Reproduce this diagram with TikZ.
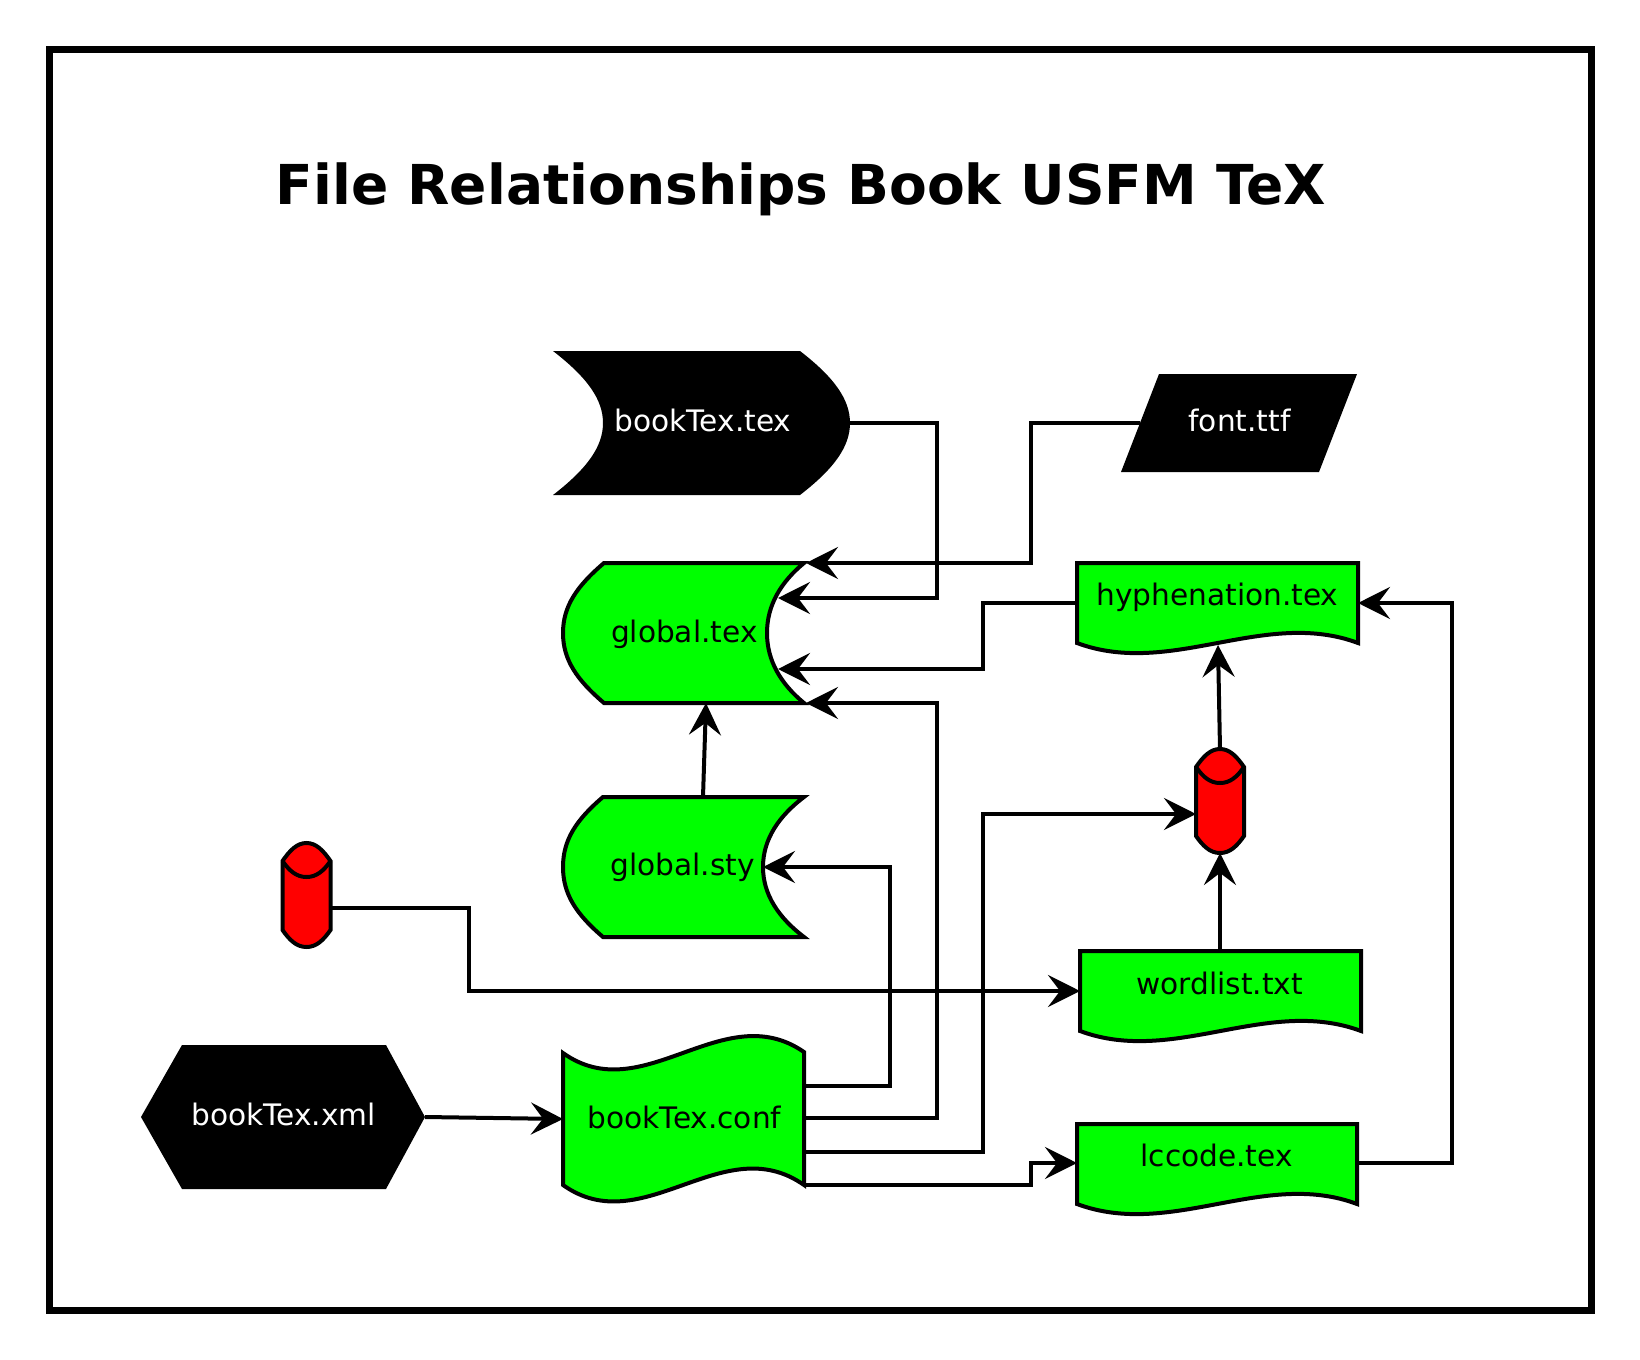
\documentclass[tikz,border=0pt]{standalone}
\usepackage{fontspec}
\setmainfont{DejaVu Sans}
\usetikzlibrary{arrows.meta}
\definecolor{nodegreen}{RGB}{0,255,0}
\definecolor{nodered}{RGB}{255,0,0}
\begin{document}
\begin{tikzpicture}[x=0.5pt,y=-0.5pt,
  conn/.style={draw=black, line width=2pt, line join=miter, -{Stealth[length=16pt,width=16pt,inset=6pt]}},
  greenshape/.style={fill=nodegreen, draw=black, line width=2pt, line join=miter},
  blackshape/.style={fill=black},
  redshape/.style={fill=nodered, draw=black, line width=2pt},
  lbl/.style={font=\fontsize{14.8}{18}\selectfont, anchor=base, inner sep=0pt},
  cylinder/.pic={
    \path[redshape] (-24,-34) -- (-24,35) .. controls (-17,45) and (-10,52) .. (0,52)
      .. controls (10,52) and (17,45) .. (24,35) -- (24,-34)
      .. controls (17,-44) and (10,-52) .. (0,-52)
      .. controls (-10,-52) and (-17,-44) .. cycle;
    \draw[line width=2pt] (-24,-34) .. controls (-17,-24) and (-10,-18) .. (0,-18)
      .. controls (10,-18) and (17,-24) .. (24,-34);
  }]
\useasboundingbox (0,0) rectangle (1640,1360);
\draw[line width=3.5pt] (49,49) rectangle (1591,1310);
\node[font=\fontsize{27.5}{33}\selectfont\bfseries, anchor=base, inner sep=0pt] (title) at (801,204) {File Relationships Book USFM TeX};

% bookTex.tex
\path[blackshape] (553,351) -- (800,351) .. controls (835,378) and (850,400) .. (850,423)
  .. controls (850,446) and (835,468) .. (800,495) -- (553,495)
  .. controls (588,468) and (603,446) .. (603,423) .. controls (603,400) and (588,378) .. cycle;
% font.ttf
\path[blackshape] (1159,374) -- (1357,374) -- (1319,472) -- (1121,472) -- cycle;
% global.tex
\path[greenshape] (604,563) -- (804,563) .. controls (781,582) and (767,605) .. (767,633)
  .. controls (767,661) and (781,684) .. (804,703) -- (604,703)
  .. controls (577,680) and (563,660) .. (563,633) .. controls (563,606) and (577,586) .. cycle;
% global.sty
\path[greenshape] (603,797) -- (804,797) .. controls (779,816) and (763,839) .. (763,867)
  .. controls (763,895) and (779,918) .. (804,937) -- (603,937)
  .. controls (576,914) and (563,894) .. (563,867) .. controls (563,840) and (576,820) .. cycle;
% hyphenation.tex
\path[greenshape] (1077,563) -- (1358,563) -- (1358,643) .. controls (1264,608) and (1171,678) .. (1077,643) -- cycle;
% wordlist.txt
\path[greenshape] (1080,951) -- (1361,951) -- (1361,1031) .. controls (1267,996) and (1174,1066) .. (1080,1031) -- cycle;
% lccode.tex
\path[greenshape] (1077,1124) -- (1357,1124) -- (1357,1204) .. controls (1264,1169) and (1171,1239) .. (1077,1204) -- cycle;
% bookTex.conf
\path[greenshape] (563,1053) .. controls (643,1110) and (723,996) .. (804,1052) -- (804,1185)
  .. controls (723,1128) and (643,1242) .. (563,1185) -- cycle;
% bookTex.xml
\path[blackshape] (141,1117) -- (182,1045) -- (386,1045) -- (425,1117) -- (386,1189) -- (182,1189) -- cycle;
% cylinders
\pic at (1220,801) {cylinder};
\pic at (306.5,895) {cylinder};

% ports
\coordinate (bt-e) at (850,423);
\coordinate (font-w) at (1140,423);
\coordinate (gt-ne) at (806,563);
\coordinate (gt-e1) at (778,598);
\coordinate (gt-e2) at (778,669);
\coordinate (gt-se) at (806,703);
\coordinate (gt-s) at (706,703);
\coordinate (gs-n) at (703,797);
\coordinate (gs-e) at (763,867);
\coordinate (hy-w) at (1077,603);
\coordinate (hy-e) at (1358,603);
\coordinate (hy-s) at (1218,645);
\coordinate (wl-w) at (1080,991);
\coordinate (wl-n) at (1220,951);
\coordinate (lc-w) at (1077,1163);
\coordinate (lc-e) at (1357,1163);
\coordinate (cylR-w) at (1196,814);
\coordinate (cylR-n) at (1220,749);
\coordinate (cylR-s) at (1220,853);
\coordinate (cylL-e) at (330.5,908);
\coordinate (xml-e) at (425,1117);
\coordinate (conf-w) at (563,1119);
\coordinate (conf-e1) at (804,1086);
\coordinate (conf-e2) at (804,1118);
\coordinate (conf-e3) at (804,1152);
\coordinate (conf-e4) at (804,1185);

% connectors
\draw[conn] (bt-e) -- (936.5,423) -- (936.5,598) -- (gt-e1);
\draw[conn] (font-w) -- (1031,423) -- (1031,563) -- (gt-ne);
\draw[conn] (hy-w) -- (983,603) -- (983,669) -- (gt-e2);
\draw[conn] (conf-e2) -- (936.5,1118) -- (936.5,703) -- (gt-se);
\draw[conn] (conf-e1) -- (890,1086) -- (890,867) -- (gs-e);
\draw[conn] (conf-e3) -- (983,1152) -- (983,814) -- (cylR-w);
\draw[conn] (conf-e4) -- (1031,1185) -- (1031,1163) -- (lc-w);
\draw[conn] (lc-e) -- (1452,1163) -- (1452,603) -- (hy-e);
\draw[conn] (cylL-e) -- (469,908) -- (469,991) -- (wl-w);
\draw[conn] (xml-e) -- (conf-w);
\draw[conn] (wl-n) -- (cylR-s);
\draw[conn] (cylR-n) -- (hy-s);
\draw[conn] (gs-n) -- (gt-s);

% labels
\node[lbl, text=white] (booktex) at (703,431) {bookTex.tex};
\node[lbl, text=white] (font) at (1239.5,431.7) {font.ttf};
\node[lbl] (globaltex) at (684.3,642.3) {global.tex};
\node[lbl] (hyph) at (1217.5,605) {hyphenation.tex};
\node[lbl] (globalsty) at (682.5,875.7) {global.sty};
\node[lbl] (wordlist) at (1219.7,994.3) {wordlist.txt};
\node[lbl] (conf) at (684.5,1128.3) {bookTex.conf};
\node[lbl, text=white] (xml) at (283.7,1125) {bookTex.xml};
\node[lbl] (lccode) at (1216.7,1166.7) {lccode.tex};
\end{tikzpicture}
\end{document}
